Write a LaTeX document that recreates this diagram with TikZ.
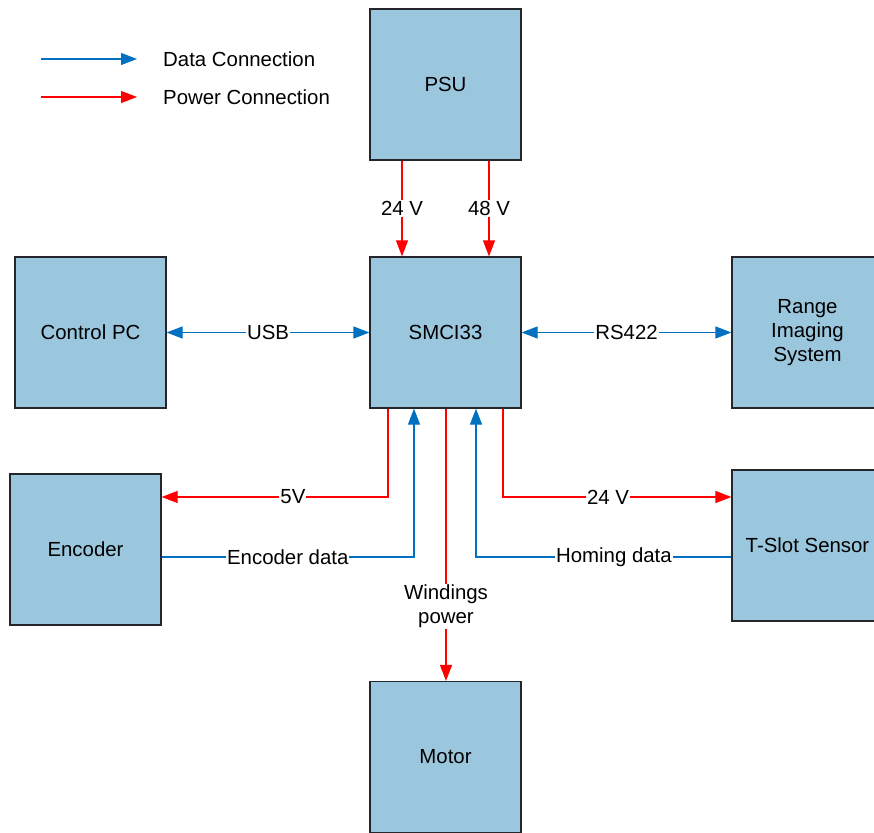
\documentclass[tikz,border=0pt]{standalone}
\usepackage{fontspec}
\setmainfont{Liberation Sans}
\usetikzlibrary{arrows.meta}
\definecolor{boxfill}{RGB}{155,199,222}
\definecolor{boxline}{RGB}{35,38,42}
\definecolor{datablue}{RGB}{0,112,192}
\definecolor{powred}{RGB}{255,0,0}
\begin{document}
\begin{tikzpicture}[x=1pt,y=-1pt,
  font=\fontsize{20.4}{24}\selectfont,
  blk/.style={draw=boxline,line width=1.2pt,fill=boxfill,minimum width=151pt,minimum height=151pt,inner sep=0pt,align=center},
  tip/.style={-{Triangle[length=16pt,width=12pt]}},
  data/.style={draw=datablue,line width=1.2pt,tip},
  datab/.style={draw=datablue,line width=1.2pt,{Triangle[length=16pt,width=12pt]}-{Triangle[length=16pt,width=12pt]}},
  power/.style={draw=powred,line width=1.2pt,tip},
  lbl/.style={fill=white,inner sep=1pt,text=black,align=center}]
\useasboundingbox (0,0) rectangle (874,832);
\clip (0,0) rectangle (874,832);
% blocks
\node[blk] (psu) at (445.5,84.5) {PSU};
\node[blk] (smci) at (445.5,332.5) {SMCI33};
\node[blk] (ctrl) at (90.5,332.5) {Control PC};
\node[blk] (ris) at (807.5,332.5) {Range\\Imaging\\System};
\node[blk] (enc) at (85.5,549.5) {Encoder};
\node[blk] (tslot) at (807.5,545.5) {T-Slot Sensor};
\node[blk] (motor) at (445.5,757) {Motor};
% legend
\coordinate (la1) at (41,59);
\coordinate (lb1) at (137,59);
\coordinate (la2) at (41,97);
\coordinate (lb2) at (137,97);
\draw[data] (la1) -- (lb1);
\draw[power] (la2) -- (lb2);
\node[anchor=west,inner sep=0pt] (ldata) at (163,59) {Data Connection};
\node[anchor=west,inner sep=0pt] (lpow) at (163,97) {Power Connection};
% PSU to SMCI
\draw[power] ([xshift=-43.5pt]psu.south) -- node[lbl]{24 V} ([xshift=-43.5pt]smci.north);
\draw[power] ([xshift=43.5pt]psu.south) -- node[lbl]{48 V} ([xshift=43.5pt]smci.north);
% USB and RS422
\draw[datab] (ctrl.east) -- node[lbl]{USB} (smci.west);
\draw[datab] (smci.east) -- node[lbl]{RS422} (ris.west);
% encoder
\draw[power] ([xshift=-57.5pt]smci.south) |- node[lbl,pos=0.71]{5V} ([yshift=52.5pt]enc.east);
\draw[data] ([yshift=-7.5pt]enc.east) -| node[lbl,pos=0.25]{Encoder data} ([xshift=-31.5pt]smci.south);
% motor
\draw[power] ([xshift=0.5pt]smci.south) -- node[lbl,pos=0.725]{Windings\\power} ([xshift=0.5pt]motor.north);
% t-slot
\draw[power] ([xshift=57.5pt]smci.south) |- node[lbl,pos=0.73]{24 V} ([yshift=48.5pt]tslot.west);
\draw[data] ([yshift=-11.5pt]tslot.west) -| node[lbl,pos=0.23]{Homing data} ([xshift=30.5pt]smci.south);
\end{tikzpicture}
\end{document}
